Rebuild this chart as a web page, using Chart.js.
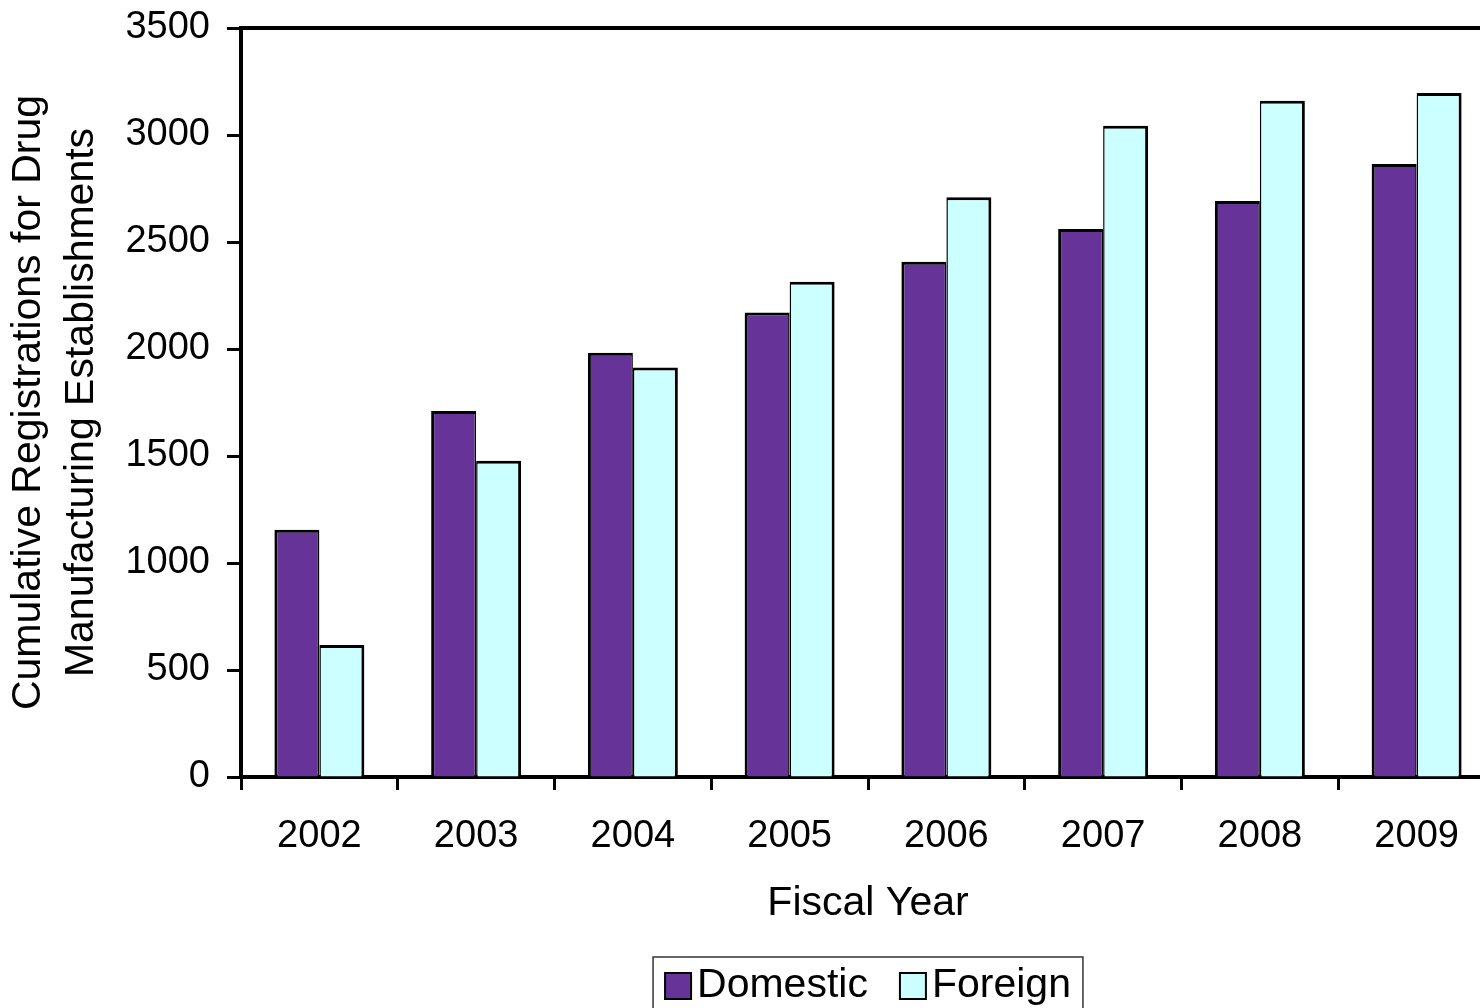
<!DOCTYPE html>
<html>
<head>
<meta charset="utf-8">
<title>Cumulative Registrations for Drug Manufacturing Establishments</title>
<script src="https://cdn.jsdelivr.net/npm/chart.js@4.4.1/dist/chart.umd.min.js"></script>
<style>
  html, body { margin: 0; padding: 0; background: #fff; overflow: hidden; }
  #chart { display: block; width: 1500px; height: 1008px; }
</style>
</head>
<body>
<canvas id="chart" width="1500" height="1008"></canvas>
<script>
// ── DATA ──
const years    = ['2002', '2003', '2004', '2005', '2006', '2007', '2008', '2009'];
const domestic = [1155, 1710, 1983, 2170, 2408, 2561, 2692, 2865];
const foreign  = [617, 1478, 1914, 2314, 2709, 3043, 3160, 3196];
const yTitle   = ['Cumulative Registrations for Drug', 'Manufacturing Establishments'];
const xTitle   = 'Fiscal Year';

const FONT = "'Liberation Sans', Arial, sans-serif";
Chart.defaults.font.family = FONT;
Chart.defaults.color = '#000';

// ── PLOT FRAME + BOXED LEGEND ──
const frameAndLegend = {
  id: 'frameAndLegend',
  afterDraw(chart) {
    const { ctx, chartArea: a } = chart;
    ctx.save();
    ctx.strokeStyle = '#000';
    ctx.lineWidth = 4;
    ctx.beginPath();
    ctx.moveTo(a.left, a.top);
    ctx.lineTo(a.right, a.top);
    ctx.lineTo(a.right, a.bottom);
    ctx.stroke();

    ctx.font = '41px ' + FONT;
    const items = chart.data.datasets.map(ds => ({
      label: ds.label,
      color: ds.backgroundColor,
      w: ctx.measureText(ds.label).width,
    }));
    const sw = 26, gap = 6, itemGap = 32, pad = 12;
    const inner = items.reduce((s, it) => s + sw + gap + it.w, 0) + itemGap * (items.length - 1);
    let x = (a.left + a.right) / 2 - inner / 2;
    const top = a.bottom + 180;

    ctx.lineWidth = 1.5;
    ctx.strokeStyle = '#333';
    ctx.strokeRect(x - pad, top, inner + 2 * pad, 90);

    ctx.textBaseline = 'middle';
    ctx.textAlign = 'left';
    items.forEach(it => {
      ctx.fillStyle = it.color;
      ctx.fillRect(x, top + 16, sw, sw);
      ctx.lineWidth = 2;
      ctx.strokeStyle = '#000';
      ctx.strokeRect(x, top + 16, sw, sw);
      ctx.fillStyle = '#000';
      ctx.fillText(it.label, x + sw + gap, top + 29);
      x += sw + gap + it.w + itemGap;
    });
    ctx.restore();
  },
};

// ── CHART ──
const ctx = document.getElementById('chart').getContext('2d');
new Chart(ctx, {
  type: 'bar',
  data: {
    labels: years,
    datasets: [
      {
        label: 'Domestic',
        data: domestic,
        backgroundColor: '#663399',
        borderColor: '#000',
        borderWidth: { top: 3, left: 3, right: 1.5, bottom: 0 },
        borderSkipped: 'start',
      },
      {
        label: 'Foreign',
        data: foreign,
        backgroundColor: '#CCFFFF',
        borderColor: '#000',
        borderWidth: { top: 3, left: 1.5, right: 3, bottom: 0 },
        borderSkipped: 'start',
      },
    ],
  },
  options: {
    responsive: false,
    animation: false,
    categoryPercentage: 0.574,
    barPercentage: 1.0,
    layout: { padding: { top: 28, right: 5, bottom: 80, left: 0 } },
    plugins: {
      legend:  { display: false },
      tooltip: { enabled: false },
    },
    scales: {
      x: {
        afterFit: s => { s.height = 151; },
        grid: {
          offset: true,
          drawOnChartArea: false,
          drawTicks: true,
          tickLength: 13,
          tickWidth: 3,
          tickColor: '#000',
        },
        border: { display: true, color: '#000', width: 4 },
        ticks: { color: '#000', font: { size: 38 }, padding: 24 },
        title: {
          display: true,
          text: xTitle,
          color: '#000',
          font: { size: 41, lineHeight: 1.2 },
          padding: { top: 0, bottom: 0 },
        },
      },
      y: {
        min: 0,
        max: 3500,
        afterFit: s => {
          s.width = 241;
          s.paddingTop = 0;
          s.paddingBottom = 0;
        },
        grid: {
          drawOnChartArea: false,
          drawTicks: true,
          tickLength: 14,
          tickWidth: 3,
          tickColor: '#000',
        },
        border: { display: true, color: '#000', width: 4 },
        ticks: {
          stepSize: 500,
          color: '#000',
          font: { size: 38 },
          padding: 17,
          callback: v => String(v),
        },
        title: {
          display: true,
          text: yTitle,
          color: '#000',
          font: { size: 41, lineHeight: 1.3 },
          padding: { top: 2, bottom: 0 },
        },
      },
    },
  },
  plugins: [frameAndLegend],
});
</script>
</body>
</html>
